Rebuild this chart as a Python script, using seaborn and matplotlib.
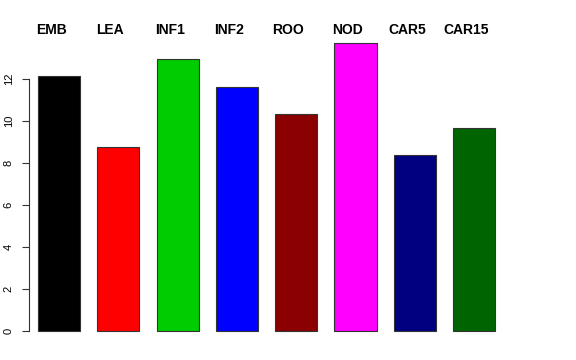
import pandas as pd
import matplotlib
matplotlib.use("Agg")
import matplotlib.pyplot as plt
import matplotlib.transforms as mtransforms
import seaborn as sns

# Data
categories = ["EMB", "LEA", "INF1", "INF2", "ROO", "NOD", "CAR5", "CAR15"]
values = [12.14, 8.76, 12.95, 11.62, 10.33, 13.71, 8.38, 9.67]
bar_colors = ["#000000", "#FF0000", "#00CD00", "#0000FF",
              "#8B0000", "#FF00FF", "#000080", "#006400"]
y_ticks = [0, 2, 4, 6, 8, 10, 12]

df = pd.DataFrame({"sample": categories, "value": values})

sns.set_style("white")
plt.rcParams["font.family"] = ["Liberation Sans", "DejaVu Sans"]
plt.rcParams["text.color"] = "black"
plt.rcParams["ytick.color"] = "#333333"
plt.rcParams["ytick.labelcolor"] = "black"

fig = plt.figure(figsize=(5.76, 3.6), dpi=100)
ax = fig.add_axes([29 / 576, 0.0486, (540 - 29) / 576, 0.8639])

sns.barplot(data=df, x="sample", y="value", hue="sample",
            palette=dict(zip(categories, bar_colors)), width=0.71,
            saturation=1, edgecolor="#333333", linewidth=0.8,
            legend=False, ax=ax)

ax.set_xlim(-0.506, 8.11)
ax.set_ylim(-0.548, 14.26)

# labels above the bars, like R's mtext
trans = mtransforms.blended_transform_factory(ax.transData, ax.transAxes)
for i, name in enumerate(categories):
    ax.text(i - 0.135, 1.005, name, transform=trans, ha="center", va="center",
            fontsize=10, fontweight="bold", color="black", clip_on=False)

ax.set_xticks([])
ax.set_xlabel("")
ax.set_ylabel("")
ax.set_yticks(y_ticks)
ax.set_yticklabels([str(t) for t in y_ticks], rotation=90, va="center", fontsize=8)
ax.tick_params(axis="y", direction="out", length=5, width=0.8, pad=6,
               color="#333333", labelcolor="black", left=True)

for side in ["top", "right", "bottom"]:
    ax.spines[side].set_visible(False)
ax.spines["left"].set_bounds(0, 12)
ax.spines["left"].set_color("#333333")
ax.spines["left"].set_linewidth(0.8)

fig.savefig("out.png", dpi=100)
